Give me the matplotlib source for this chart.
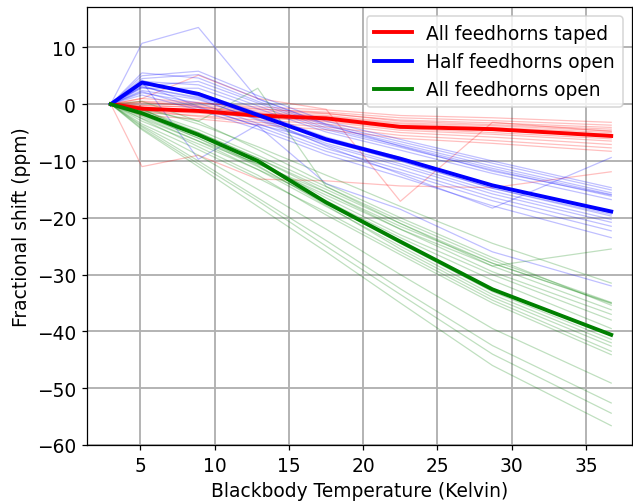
import matplotlib
matplotlib.use('Agg')
import matplotlib.pyplot as plt

# blackbody temperatures (K)
temps = [3.0, 5.1, 8.9, 12.9, 17.5, 22.5, 28.7, 36.7]

# mean fractional shift per configuration (ppm)
taped_mean = [0, -0.8, -1.2, -2.0, -2.5, -4.0, -4.4, -5.6]
half_mean = [0, 3.8, 1.8, -1.9, -6.2, -9.6, -14.3, -18.9]
open_mean = [0, -1.6, -5.4, -10.0, -17.3, -24.2, -32.6, -40.6]

# individual detectors, all feedhorns taped
taped_runs = [
    [0, 0.5, 0.2, -0.5, -1.0, -2.0, -2.4, -3.2],
    [0, 0.2, -0.2, -0.9, -1.4, -2.4, -2.9, -3.7],
    [0, -0.3, -0.5, -1.2, -1.7, -2.8, -3.3, -4.1],
    [0, 1.0, 0.3, -0.8, -1.6, -3.0, -3.6, -4.4],
    [0, -0.6, -0.9, -1.5, -2.0, -3.3, -3.8, -4.7],
    [0, -0.2, -0.6, -1.6, -2.2, -3.5, -4.1, -5.0],
    [0, -0.9, -1.3, -1.9, -2.4, -3.8, -4.3, -5.3],
    [0, 0.4, -0.4, -1.8, -2.6, -4.0, -4.6, -5.6],
    [0, -1.2, -1.6, -2.3, -2.9, -4.3, -5.0, -6.1],
    [0, -0.5, -1.2, -2.4, -3.1, -4.6, -5.3, -6.5],
    [0, -1.5, -2.0, -2.8, -3.5, -5.0, -5.8, -7.1],
    [0, -1.0, -2.2, -3.2, -4.0, -5.5, -6.4, -7.7],
    [0, -2.0, -2.6, -3.6, -4.5, -6.0, -6.9, -8.3],
    [0, -11.0, -9.0, -13.2, -13.5, -14.4, -14.7, -11.9],
    [0, 1.0, 5.1, 1.0, -0.9, -17.1, -3.2, -4.8],
]

# individual detectors, half feedhorns open
half_runs = [
    [0, 5.0, 5.8, 1.5, -3.0, -6.2, -10.0, -14.7],
    [0, 4.5, 5.2, 1.0, -3.5, -6.6, -10.4, -15.1],
    [0, 5.5, 4.6, 0.5, -3.8, -7.0, -10.9, -15.6],
    [0, 3.2, 4.0, 0.2, -4.2, -7.3, -11.3, -15.9],
    [0, 4.0, 3.4, -0.3, -4.5, -7.6, -11.6, -16.2],
    [0, 2.8, 2.8, -0.8, -4.9, -8.1, -12.2, -16.8],
    [0, 3.6, 2.0, -1.5, -5.8, -9.4, -14.2, -19.1],
    [0, 4.2, 1.4, -2.0, -6.3, -10.0, -14.8, -19.7],
    [0, 2.4, 0.8, -2.6, -6.9, -10.5, -15.3, -20.3],
    [0, 3.0, 1.0, -2.8, -7.2, -10.9, -15.8, -20.8],
    [0, 2.0, 0.2, -3.4, -7.8, -11.5, -16.4, -21.5],
    [0, 3.4, -0.4, -3.9, -8.3, -12.0, -17.0, -22.3],
    [0, 1.6, -1.0, -4.4, -8.9, -12.8, -17.9, -23.5],
    [0, 10.7, 13.5, 0.9, -3.6, -7.4, -11.8, -16.0],
    [0, 4.0, -9.7, -3.6, -6.5, -10.0, -14.8, -19.4],
    [0, 3.0, 1.2, -2.2, -7.4, -12.3, -18.3, -9.4],
    [0, 2.2, -0.6, -3.8, -14.0, -18.5, -26.0, -32.0],
]

# individual detectors, all feedhorns open
open_runs = [
    [0, -0.5, -3.5, -7.5, -12.5, -18.0, -24.5, -31.5],
    [0, -1.0, -4.5, -9.0, -14.5, -20.5, -27.5, -34.9],
    [0, -2.5, -6.5, -10.5, -15.5, -21.5, -28.0, -35.1],
    [0, 0.5, -3.0, -8.0, -14.0, -20.0, -27.0, -35.4],
    [0, -1.5, -5.0, -9.5, -15.0, -21.0, -28.5, -36.2],
    [0, -2.0, -6.0, -10.5, -16.0, -22.0, -29.5, -37.0],
    [0, -1.2, -5.5, -10.0, -16.5, -23.0, -30.0, -38.0],
    [0, -3.0, -7.0, -11.5, -17.0, -23.5, -31.0, -39.5],
    [0, -1.8, -6.0, -11.0, -17.5, -24.5, -33.0, -41.4],
    [0, -2.2, -6.5, -11.5, -18.0, -25.0, -33.5, -42.0],
    [0, -0.8, -5.5, -10.8, -17.8, -25.5, -34.0, -42.6],
    [0, -3.5, -8.0, -13.0, -19.0, -26.0, -34.5, -43.5],
    [0, -2.6, -7.5, -12.5, -19.5, -26.5, -35.0, -44.1],
    [0, -3.8, -9.0, -15.0, -22.0, -30.0, -39.5, -49.1],
    [0, -4.0, -10.0, -16.5, -24.0, -32.5, -42.5, -52.6],
    [0, -4.3, -10.5, -17.0, -25.0, -33.5, -44.0, -54.4],
    [0, -4.5, -11.0, -18.0, -26.0, -35.0, -46.0, -56.6],
    [0, -1.0, -5.0, -9.5, -15.5, -22.0, -28.5, -25.5],
    [0, -1.0, -3.0, 2.8, -14.5, -21.0, -28.0, -35.0],
]

DPI = 112
fig = plt.figure(figsize=(633 / DPI, 502 / DPI), dpi=DPI)
ax = fig.add_axes([87 / 633, 1 - 446 / 502, (632 - 87) / 633, (446 - 8) / 502])

# thin individual curves
for run in taped_runs:
    ax.plot(temps, run, color='red', alpha=0.25, linewidth=0.8)
for run in half_runs:
    ax.plot(temps, run, color='blue', alpha=0.25, linewidth=0.8)
for run in open_runs:
    ax.plot(temps, run, color='green', alpha=0.25, linewidth=0.8)

# means
ax.plot(temps, taped_mean, color='red', linewidth=2.5, label='All feedhorns taped')
ax.plot(temps, half_mean, color='blue', linewidth=2.5, label='Half feedhorns open')
ax.plot(temps, open_mean, color='green', linewidth=2.5, label='All feedhorns open')

ax.set_xlim(1.4, 38.1)
ax.set_ylim(-60, 17.1)
ax.set_xticks([5, 10, 15, 20, 25, 30, 35])
ax.set_yticks([10, 0, -10, -20, -30, -40, -50, -60])
ax.tick_params(labelsize=12)
ax.set_xlabel('Blackbody Temperature (Kelvin)', fontsize=12)
ax.set_ylabel('Fractional shift (ppm)', fontsize=12)
ax.grid(True, color='#b0b0b0', linewidth=1.2)
ax.set_axisbelow(True)
ax.legend(loc='upper right', fontsize=12)

fig.savefig('out.png', dpi=DPI)
